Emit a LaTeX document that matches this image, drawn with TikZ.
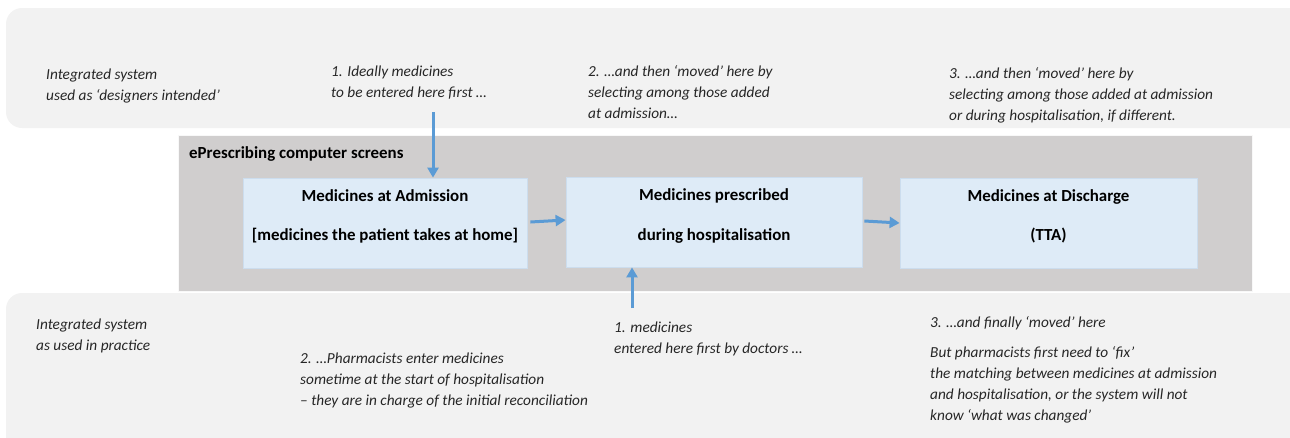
\documentclass[tikz,border=0pt]{standalone}
\usepackage{fontspec}
\setmainfont{Carlito}
\usetikzlibrary{arrows.meta}
\definecolor{bandcol}{HTML}{F2F2F2}
\definecolor{screencol}{HTML}{D0CECE}
\definecolor{boxfill}{HTML}{DEEBF7}
\definecolor{boxline}{HTML}{CCDDEE}
\definecolor{arrcol}{HTML}{5B9BD5}
\definecolor{txtcol}{HTML}{262626}
\begin{document}
\begin{tikzpicture}[x=1pt,y=-1pt,
  band/.style={fill=bandcol, draw=none, rounded corners=16pt},
  screen/.style={fill=screencol, draw=white!85!screencol, line width=0.8pt},
  medbox/.style={fill=boxfill, draw=boxline, line width=0.8pt, inner sep=0pt},
  note/.style={anchor=base west, align=left, inner sep=0pt, text=txtcol,
    font=\fontsize{15.3}{21}\selectfont\itshape},
  boxtxt/.style={anchor=base, inner sep=0pt, text=black,
    font=\fontsize{16.9}{20}\selectfont\bfseries},
  flow/.style={draw=arrcol, line width=3pt, -{Triangle[length=10pt,width=11pt]}}
]
\useasboundingbox (0,0) rectangle (1290,437);
\clip (0,0) rectangle (1290,437);
% bands
\path[band] (6,8) rectangle (1320,128);
\path[band] (6,293) rectangle (1320,460);
% screen area
\node[screen, minimum width=1074pt, minimum height=156pt, inner sep=0pt] (screen) at (715,213) {};
\node[anchor=base west, inner sep=0pt, font=\fontsize{16.9}{20}\selectfont\bfseries] (screenT) at (189,158) {ePrescribing computer screens};
% boxes
\node[medbox, minimum width=284pt, minimum height=90pt] (adm) at (385,223) {};
\node[medbox, minimum width=296pt, minimum height=90pt] (pre) at (714,222) {};
\node[medbox, minimum width=297pt, minimum height=90pt] (dis) at (1048.5,223) {};
\node[boxtxt] (admA) at (385,201) {Medicines at Admission};
\node[boxtxt] (admB) at (385,240) {[medicines the patient takes at home]};
\node[boxtxt] (preA) at (714,200) {Medicines prescribed};
\node[boxtxt] (preB) at (714,240) {during hospitalisation};
\node[boxtxt] (disA) at (1048.5,201) {Medicines at Discharge};
\node[boxtxt] (disB) at (1048.5,240) {(TTA)};
% top notes (anchor = baseline of last line)
\node[note] (t0) at (46,100) {Integrated system\\used as ‘designers intended’};
\node[note] (t1) at (331,97) {1. Ideally medicines\\to be entered here first …};
\node[note] (t2) at (588,118) {2. …and then ‘moved’ here by\\selecting among those added\\at admission…};
\node[note] (t3) at (949,120) {3. …and then ‘moved’ here by\\selecting among those added at admission\\or during hospitalisation, if different.};
% bottom notes
\node[note] (b0) at (36,350) {Integrated system\\as used in practice};
\node[note] (b2) at (300,405) {2. …Pharmacists enter medicines\\sometime at the start of hospitalisation\\– they are in charge of the initial reconciliation};
\node[note] (b1) at (614,353) {1. medicines\\entered here first by doctors …};
\node[note] (b3a) at (930,327) {3. …and finally ‘moved’ here};
\node[note] (b3b) at (930,420) {But pharmacists first need to ‘fix’\\the matching between medicines at admission\\and hospitalisation, or the system will not\\know ‘what was changed’};
% arrows
\coordinate (downStart) at (433,112);
\coordinate (upStart) at (632,308);
\draw[flow] (downStart) -- (downStart |- adm.north);
\draw[flow] (upStart) -- (upStart |- pre.south);
\draw[flow] ([xshift=3pt,yshift=1pt]adm.east) -- ([yshift=2pt]pre.west);
\draw[flow] ([xshift=2pt,yshift=1pt]pre.east) -- (dis.west);
\end{tikzpicture}
\end{document}
